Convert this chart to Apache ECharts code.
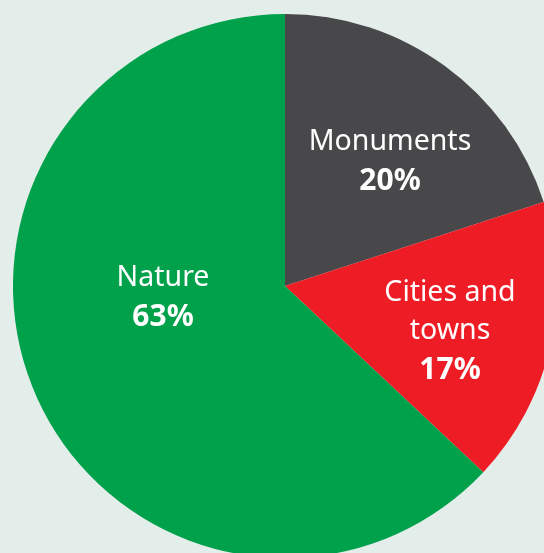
<!DOCTYPE html>
<html>
<head>
<meta charset="utf-8">
<script src="https://cdn.jsdelivr.net/npm/echarts@6/dist/echarts.min.js"></script>
<style>
	html, body { margin: 0; padding: 0; background: #e3ede9; }
	#chart { width: 544px; height: 553px; }
</style>
</head>
<body>
<div id="chart"></div>
<script>
var names = ["Monuments", "Cities and\ntowns", "Nature"];
var values = [20, 17, 63];
var colors = ["#48474a", "#ee1c25", "#00a14b"];
// label centres in px
var labelPos = [[390, 162], [450, 332], [163, 298]];

var chart = echarts.init(document.getElementById("chart"));
chart.setOption({
	backgroundColor: "#e3ede9",
	animation: false,
	series: [
		{
			type: "pie",
			center: [285, 286],
			radius: 272,
			startAngle: 90,
			clockwise: true,
			silent: true,
			emphasis: { scale: false },
			labelLine: { show: false },
			label: {
				position: "inside",
				color: "#ffffff",
				fontFamily: "Noto Sans",
				formatter: function (p) {
					var lines = p.name.split("\n").map(function (s) { return "{n|" + s + "}"; });
					return lines.join("\n") + "\n{v|" + p.value + "%}";
				},
				rich: {
					n: { fontFamily: "Noto Sans", fontSize: 28.5, lineHeight: 38, color: "#ffffff" },
					v: { fontFamily: "Noto Sans", fontSize: 30, fontWeight: "bold", lineHeight: 40, color: "#ffffff" }
				}
			},
			labelLayout: function (params) {
				var p = labelPos[params.dataIndex];
				return { x: p[0], y: p[1], align: "center", verticalAlign: "middle" };
			},
			data: values.map(function (v, i) {
				return { name: names[i], value: v, itemStyle: { color: colors[i] } };
			})
		}
	]
});
</script>
</body>
</html>
